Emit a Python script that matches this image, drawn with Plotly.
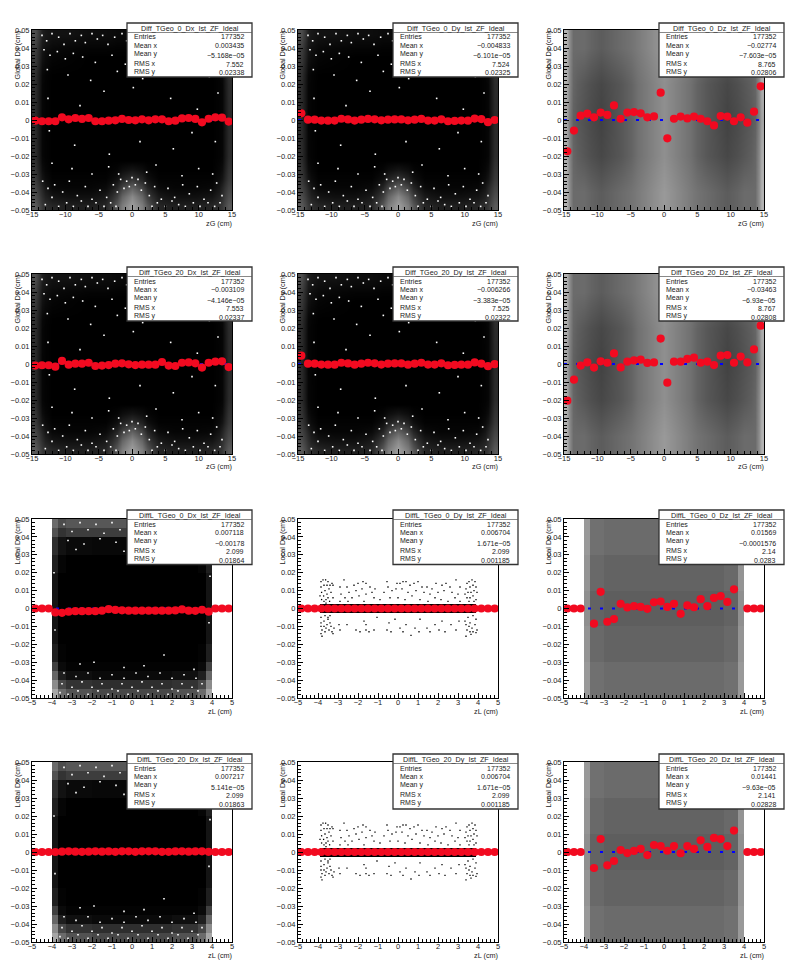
import plotly.graph_objects as go
from plotly.subplots import make_subplots

W, H = 798, 975
FONT = "Liberation Sans"

# ---------- statistics boxes ----------
titles = ["Diff_TGeo_0_Dx_Ist_ZF_Ideal", "Diff_TGeo_0_Dy_Ist_ZF_Ideal", "Diff_TGeo_0_Dz_Ist_ZF_Ideal",
          "Diff_TGeo_20_Dx_Ist_ZF_Ideal", "Diff_TGeo_20_Dy_Ist_ZF_Ideal", "Diff_TGeo_20_Dz_Ist_ZF_Ideal",
          "DiffL_TGeo_0_Dx_Ist_ZF_Ideal", "DiffL_TGeo_0_Dy_Ist_ZF_Ideal", "DiffL_TGeo_0_Dz_Ist_ZF_Ideal",
          "DiffL_TGeo_20_Dx_Ist_ZF_Ideal", "DiffL_TGeo_20_Dy_Ist_ZF_Ideal", "DiffL_TGeo_20_Dz_Ist_ZF_Ideal"]
entries = ["177352"] * 12
mean_x = ["0.003435", "\u22120.004833", "\u22120.02774", "\u22120.003109", "\u22120.006266", "\u22120.03463",
          "0.007118", "0.006704", "0.01569", "0.007217", "0.006704", "0.01441"]
mean_y = ["\u22125.168e\u221205", "\u22126.101e\u221205", "\u22127.603e\u221205", "\u22124.146e\u221205", "\u22123.383e\u221205", "\u22126.93e\u221205",
          "\u22120.00178", "1.671e\u221205", "\u22120.0001576", "5.141e\u221205", "1.671e\u221205", "\u22129.63e\u221205"]
rms_x = ["7.552", "7.524", "8.765", "7.553", "7.525", "8.767", "2.099", "2.099", "2.14", "2.099", "2.099", "2.141"]
rms_y = ["0.02338", "0.02325", "0.02806", "0.02337", "0.02322", "0.02808",
         "0.01864", "0.001185", "0.0283", "0.01863", "0.001185", "0.02828"]
x_titles = ["zG (cm)"] * 6 + ["zL (cm)"] * 6
y_titles = ["Global Dx (cm)", "Global Dy (cm)", "Global Dz (cm)"] * 2 + ["Local Dx (cm)", "Local Dy (cm)", "Local Dz (cm)"] * 2

# ---------- profile means (red), 30 bins ----------
zg_centers = [-14.5 + i for i in range(30)]
zl_centers = [-4.833, -4.5, -4.167, -3.833, -3.5, -3.167, -2.833, -2.5, -2.167, -1.833, -1.5, -1.167, -0.833, -0.5, -0.167,
              0.167, 0.5, 0.833, 1.167, 1.5, 1.833, 2.167, 2.5, 2.833, 3.167, 3.5, 3.833, 4.167, 4.5, 4.833]
N = None
mean_g0dx = [-.0004, -.0007, -.0007, -.0007, .0015, .0004, .0011, .0006, .0011, -.0007, -.0007, -.0004, -.0002, .0006, 0,
             -.0002, .0004, -.0002, .0004, .0004, -.0007, -.0004, .0009, .0011, .0006, -.0013, .0007, .0015, .0013, -.0009]
mean_g0dy = [.0037, .0002, .0002, -.0003, -.0004, -.0003, .0007, .0003, -.0003, .0002, .0006, .0004, -.0002, .0002, .0003,
             .0003, -.0002, .0002, .0006, -.0003, -.0003, .0004, -.0007, -.0005, -.0003, -.0004, .0008, .0005, -.0012, 0]
mean_g0dz = [-.0174, -.0059, .0024, .0035, .0015, .0041, .0028, .0081, .0007, .0041, .0044, .0037, .0015, .002, .0152,
             -.0102, .0007, .0019, .0009, .0019, .0007, -.0007, -.003, .0022, .0019, -.0007, .0015, -.0015, .0046, .0187]
mean_g20dx = [-.0009, -.0007, -.0007, -.0015, .0017, -.0004, .0002, .0002, .0007, -.0011, -.0009, -.0006, .0002, .0004, -.0002,
              -.0006, -.0004, -.0004, -.0004, .0011, -.0009, -.0011, .0007, .0009, .0004, -.002, .0007, .0013, .0015, -.0017]
mean_g20dy = [.0046, .0002, .0002, -.0003, -.0004, -.0004, .0007, .0003, -.0004, .0002, .0007, .0004, -.0003, .0002, .0003,
              .0003, -.0004, .0002, .0007, -.0003, -.0003, .0004, -.0007, -.0005, -.0004, -.0004, .0009, .0002, -.0012, -.0001]
mean_g20dz = [-.0204, -.0087, -.0009, .0009, -.002, .0015, .0007, .0059, -.0019, .0013, .002, .0024, .0006, .0009, .0141,
              -.0104, .0013, .0013, .0028, .0035, .0007, .0013, -.0006, .0046, .005, .0007, .0041, .0009, .0081, .0213]
mean_l0dx = [0, 0, 0, -.0022, -.0024, -.0018, -.0015, -.0015, -.0015, -.0015, -.0012, -.0004, -.0008, -.001, -.0012,
             -.0012, -.0012, -.0012, -.0012, -.0012, -.0012, -.0011, -.0005, -.0012, -.0013, -.0007, -.0018, 0, 0, 0]
mean_l0dy = [0] * 30
mean_l0dz = [0, 0, 0, N, -.0085, .0093, -.0074, -.0059, .0026, .0006, .0013, .0009, -.0002, .0035, .0039,
             .0009, .0026, -.003, .0017, .0007, .0052, .0013, .0059, .0069, .0037, .0107, N, 0, 0, 0]
mean_l20dx = [0, 0, 0, 0, .0002, .0004, .0002, .0001, .0002, .0004, .0002, .0003, .0001, .0004, .0004,
              .0001, .0004, .0004, .0004, .0001, .0001, .0003, .0004, .0002, .0003, .0004, .0001, 0, 0, 0]
mean_l20dy = [0] * 30
mean_l20dz = [0, 0, 0, N, -.0089, .0072, -.0074, -.005, .0011, -.0006, .0006, .0017, -.0017, .0039, .0033,
              .0007, .0033, -.0007, .0033, .0017, .0065, .0028, .0078, .0072, .0033, .0119, N, 0, 0, 0]
means = [mean_g0dx, mean_g0dy, mean_g0dz, mean_g20dx, mean_g20dy, mean_g20dz,
         mean_l0dx, mean_l0dy, mean_l0dz, mean_l20dx, mean_l20dy, mean_l20dz]

# ---------- read-off occupancy of the scatter clouds (0 empty .. 1 solid) ----------
gd_xb = [-15, -14, -13, -11, -8, -5, -3, -1.5, 1.5, 3, 5, 8, 11, 13, 14, 15]
gd_yb = [-.05, -.045, -.04, -.035, -.03, -.025, -.02, .02, .03, .04, .045, .05]
gd_z = [
    [.65, .78, .85, .88, .88, .85, .65, .38, .65, .85, .88, .88, .85, .78, .65],
    [.70, .82, .92, .94, .94, .90, .75, .46, .75, .90, .94, .94, .92, .82, .70],
    [.74, .86, .97, .98, .98, .96, .85, .62, .85, .96, .98, .98, .97, .86, .74],
    [.78, .92, .99, .99, .99, .99, .94, .80, .94, .99, .99, .99, .99, .92, .78],
    [.80, .95, 1, 1, 1, 1, .98, .92, .98, 1, 1, 1, 1, .95, .80],
    [.82, .97, 1, 1, 1, 1, 1, 1, 1, 1, 1, 1, 1, .97, .82],
    [.84, .98, 1, 1, 1, 1, 1, 1, 1, 1, 1, 1, 1, .98, .84],
    [.82, .97, 1, 1, 1, 1, 1, 1, 1, 1, 1, 1, 1, .97, .82],
    [.78, .93, .98, .99, 1, 1, 1, 1, 1, 1, 1, .99, .98, .93, .78],
    [.74, .90, .95, .96, .97, .97, .98, .98, .98, .97, .97, .96, .95, .90, .74],
    [.70, .88, .93, .93, .95, .95, .96, .96, .96, .95, .95, .93, .93, .88, .70],
]
gz_xb = [-15, -14.3, -13, -11, -8, -5, -3, -1, 1, 3, 5, 8, 11, 13, 14.3, 15]
gz_yb = [-.05, -.03, -.01, .01, .03, .05]
gz_z = [
    [.30, .58, .58, .64, .58, .52, .46, .40, .46, .52, .58, .64, .58, .58, .30],
    [.32, .60, .66, .72, .66, .56, .50, .44, .50, .56, .66, .72, .66, .60, .32],
    [.36, .62, .68, .74, .66, .56, .50, .44, .50, .56, .66, .74, .68, .62, .36],
    [.32, .60, .66, .72, .66, .56, .50, .44, .50, .56, .66, .72, .66, .60, .32],
    [.30, .58, .58, .64, .58, .52, .46, .40, .46, .52, .58, .64, .58, .58, .30],
]
ld_xb = [-5, -4, -3.7, -3.3, -2, -1, 0, 1, 2, 3.3, 3.7, 4, 5]
ld_yb = [-.05, -.045, -.04, -.035, -.03, -.02, .02, .03, .04, .045, .05]
ld_z = [
    [0, .35, .58, .68, .72, .72, .72, .72, .68, .58, .35, 0],
    [0, .45, .72, .80, .82, .82, .82, .82, .80, .72, .45, 0],
    [0, .60, .88, .94, .96, .96, .96, .96, .94, .88, .60, 0],
    [0, .75, .96, .99, .99, .99, .99, .99, .99, .96, .75, 0],
    [0, .88, .99, 1, 1, 1, 1, 1, 1, .99, .88, 0],
    [0, .92, 1, 1, 1, 1, 1, 1, 1, 1, .92, 0],
    [0, .88, .98, 1, 1, 1, 1, 1, 1, .98, .88, 0],
    [0, .82, .93, .96, .97, .97, .97, .97, .96, .93, .82, 0],
    [0, .68, .80, .76, .76, .76, .76, .76, .76, .80, .68, 0],
    [0, .58, .70, .66, .66, .66, .66, .66, .66, .70, .58, 0],
]
lz_xb = [-5, -4, -3.7, -3, -1, 1, 3, 3.7, 4, 5]
lz_yb = [-.05, -.03, -.01, .01, .03, .05]
lz_z = [
    [0, .40, .56, .58, .58, .58, .56, .40, 0],
    [0, .42, .59, .61, .61, .61, .59, .42, 0],
    [0, .44, .61, .63, .63, .63, .61, .44, 0],
    [0, .42, .59, .61, .61, .61, .59, .42, 0],
    [0, .40, .56, .58, .58, .58, .56, .40, 0],
]
ly_xb = [-5, -3.9, 3.9, 5]
ly_yb = [-.05, -.0025, .0025, .05]
ly_z = [[0, 0, 0], [0, 1, 0], [0, 0, 0]]
clouds = [(gd_xb, gd_yb, gd_z), (gd_xb, gd_yb, gd_z), (gz_xb, gz_yb, gz_z)] * 2 + \
         [(ld_xb, ld_yb, ld_z), (ly_xb, ly_yb, ly_z), (lz_xb, lz_yb, lz_z)] * 2

# ---------- isolated hits of the local Dy scatter (black) ----------
ly_hits = [(-3.85,.015),(-3.75,.016),(-3.62,.016),(-3.5,.015),(-3.4,.013),(-3.85,.012),(-3.7,.013),(-3.55,.013),(-3.3,.014),
 (-3.82,.009),(-3.65,.010),(-3.45,.011),(-3.25,.013),(-3.9,.007),(-3.72,.007),(-3.55,.008),(-3.35,.009),(-3.25,.006),
 (-3.82,.005),(-3.6,.005),(-3.5,.006),(-3.7,.004),(-3.42,.004),(-3.6,.003),(-2.7,.016),(-2.55,.012),(-2.9,.012),(-2.2,.013),
 (-2.0,.014),(-1.75,.015),(-1.6,.014),(-1.4,.012),(-2.45,.009),(-2.85,.008),(-2.1,.010),(-1.8,.011),(-1.3,.009),(-1.15,.011),
 (-2.65,.006),(-2.3,.006),(-1.95,.007),(-1.6,.008),(-1.2,.006),(-2.9,.004),(-2.5,.004),(-1.7,.004),(-0.9,.005),(-0.55,.015),
 (-0.5,.012),(-0.7,.009),(-0.3,.010),(-0.05,.014),(0.1,.014),(0.25,.015),(0.4,.015),(0.6,.013),(0.8,.014),(1.0,.015),(1.2,.012),
 (1.45,.012),(1.7,.011),(1.9,.014),(2.2,.013),(2.4,.014),(2.6,.012),(2.9,.016),(3.1,.012),(-0.1,.011),(0.2,.011),(0.5,.009),
 (0.9,.010),(1.3,.009),(1.6,.008),(2.0,.009),(2.3,.010),(2.7,.009),(3.0,.008),(-0.4,.006),(0,.006),(0.35,.005),(0.7,.007),
 (1.1,.005),(1.5,.004),(1.85,.006),(2.15,.005),(2.5,.004),(2.85,.006),(3.1,.004),(3.45,.014),(3.55,.015),(3.7,.016),(3.85,.015),
 (3.4,.011),(3.6,.012),(3.75,.013),(3.9,.012),(3.35,.008),(3.5,.009),(3.65,.009),(3.8,.010),(3.95,.009),(3.45,.006),(3.6,.006),
 (3.75,.007),(3.9,.005),(3.55,.004),(3.8,.004),(-3.85,-.005),(-3.65,-.004),(-3.5,-.005),(-3.4,-.004),(-3.85,-.008),(-3.7,-.007),
 (-3.5,-.006),(-3.4,-.008),(-3.85,-.010),(-3.7,-.010),(-3.55,-.009),(-3.35,-.010),(-3.8,-.012),(-3.65,-.013),(-3.45,-.012),
 (-3.3,-.013),(-3.85,-.014),(-3.6,-.011),(-3.8,-.0155),(-3.25,-.014),(-3.2,-.011),(-2.95,-.009),(-2.9,-.012),(-2.55,-.009),
 (-2.1,-.012),(-1.9,-.013),(-1.6,-.012),(-1.7,-.007),(-1.6,-.009),(-1.45,-.013),(-1.2,-.012),(-1.05,-.005),(-0.55,-.012),
 (-0.45,-.008),(-0.35,-.013),(-0.15,-.006),(0.1,-.011),(0.25,-.013),(0.4,-.009),(0.65,-.015),(0.85,-.011),(1.05,-.013),(1.1,-.006),
 (1.45,-.011),(1.6,-.013),(1.85,-.009),(2.05,-.012),(2.2,-.007),(2.35,-.013),(2.65,-.009),(2.9,-.012),(3.05,-.007),(3.35,-.007),
 (3.5,-.005),(3.6,-.008),(3.75,-.004),(3.9,-.006),(3.4,-.009),(3.55,-.010),(3.7,-.011),(3.85,-.009),(3.95,-.012),(3.45,-.012),
 (3.6,-.013),(3.75,-.013),(3.9,-.0135),(3.4,-.0155),(3.65,-.0145)]

# ---------- gaps (white) seen in the global Dx/Dy clouds ----------
gd_gaps = [(-13.5,.047),(-12.8,.044),(-12,.048),(-11,.046),(-10.2,.042),(-9.3,.048),(-8.5,.044),(-7.6,.047),(-7,.043),(-6,.048),
 (-5.2,.045),(-4.4,.047),(-3.6,.042),(-2.6,.046),(-1.5,.048),(-0.8,.044),(0.3,.046),(1.2,.048),(2.4,.044),(3.2,.047),(8.5,.048),
 (9.4,.043),(10.6,.046),(11.5,.048),(12.6,.044),(13.4,.047),(-13.2,.039),(-12.3,.036),(-11.2,.038),(-10,.034),(-8.8,.037),(-7.4,.035),
 (-5.5,.032),(-3,.036),(-1,.031),(0.9,.035),(2.8,.032),(5,.036),(7,.033),(9,.037),(10.8,.034),(12.2,.038),(13.1,.033),(-12.7,.028),
 (-9.6,.025),(-6.2,.022),(-2.2,.027),(1.6,.023),(4.4,.026),(8.2,.029),(11.6,.024),(13.2,.027),(-12.6,.012),(-7.8,.008),(-4.2,.016),
 (0.2,.018),(5.8,.012),(9.8,.006),(12.9,.015),(-12.4,-.006),(-8.6,-.014),(-3.4,-.019),(1.2,-.012),(6.2,-.016),(9,-.007),(12.5,-.012),
 (-12,-.024),(-9,-.027),(-6,-.03),(-3.5,-.026),(-2,-.03),(2.2,-.029),(3.6,-.025),(7.5,-.031),(10,-.027),(12.1,-.03),
 (-13.4,-.034),(-12.6,-.038),(-11.6,-.036),(-10.4,-.04),(-9.4,-.034),(-8.2,-.042),(-7,-.037),(-6,-.044),(-4.8,-.039),(-3.8,-.043),(-2.8,-.036),
 (-2.2,-.04),(-1.7,-.033),(-1.2,-.038),(-0.8,-.034),(-0.4,-.037),(0,-.032),(0.5,-.036),(0.9,-.033),(1.4,-.039),(2,-.035),(2.6,-.042),
 (3.4,-.037),(4.4,-.044),(5.4,-.038),(6.4,-.043),(7.6,-.036),(8.6,-.041),(9.8,-.037),(10.8,-.044),(11.8,-.039),(12.7,-.035),(13.5,-.042),
 (-13,-.047),(-12,-.043),(-11,-.048),(-9.8,-.046),(-8.8,-.048),(-7.6,-.045),(-6.6,-.048),(-5.4,-.046),(-4.2,-.048),(-3.2,-.046),(-2.4,-.048),
 (3,-.048),(3.8,-.046),(5,-.048),(6,-.045),(7,-.047),(8,-.048),(9.2,-.046),(10.2,-.048),(11.4,-.046),(12.4,-.048),(13.2,-.046)]
# ---------- gaps (white) seen in the local Dx clouds ----------
ld_gaps = [(-3.4,.047),(-3,.043),(-2.6,.048),(-2.2,.044),(-1.8,.047),(-1.4,.042),(-1,.048),(-0.6,.044),(-0.2,.047),(0.2,.043),(0.6,.048),(1,.044),
 (1.4,.047),(1.8,.042),(2.2,.048),(2.6,.044),(3,.047),(3.4,.043),(-3.2,.038),(-2.4,.036),(-1.6,.039),(-0.8,.037),(0,.038),(0.8,.036),(1.6,.039),(2.4,.037),
 (3.2,.038),(-2.8,.033),(-0.4,.032),(2,.033),(-3.9,.02),(3.9,.018),(-3.85,-.012),(3.85,-.008),(-2.6,-.031),(-1.9,-.03),(-0.4,-.033),(0.6,-.032),(1.6,-.026),
 (3.1,-.034),(-3.4,-.036),(-2.8,-.038),(-2.2,-.036),(-1.6,-.039),(-1,-.037),(-0.4,-.039),(0.2,-.036),(0.8,-.038),(1.4,-.036),(2,-.039),(2.6,-.037),(3.2,-.039),
 (-3.5,-.042),(-3,-.044),(-2.5,-.041),(-2,-.044),(-1.5,-.042),(-1,-.045),(-0.5,-.042),(0,-.044),(0.5,-.041),(1,-.044),(1.5,-.042),(2,-.045),(2.5,-.042),(3,-.044),(3.5,-.042),
 (-3.6,-.047),(-3.2,-.048),(-2.7,-.046),(-2.2,-.048),(-1.7,-.046),(-1.2,-.048),(-0.7,-.046),(-0.2,-.048),(0.3,-.046),(0.8,-.048),(1.3,-.046),(1.8,-.048),(2.3,-.046),(2.8,-.048),(3.3,-.046)]
gaps = {0: gd_gaps, 1: gd_gaps, 3: gd_gaps, 4: gd_gaps, 6: ld_gaps, 9: ld_gaps}

y_tick_vals = [-.05, -.04, -.03, -.02, -.01, 0, .01, .02, .03, .04, .05]
y_tick_text = ["\u22120.05", "\u22120.04", "\u22120.03", "\u22120.02", "\u22120.01", "0", "0.01", "0.02", "0.03", "0.04", "0.05"]
zg_tick_vals = [-15, -10, -5, 0, 5, 10, 15]
zg_tick_text = ["\u221215", "\u221210", "\u22125", "0", "5", "10", "15"]
zl_tick_vals = [-5, -4, -3, -2, -1, 0, 1, 2, 3, 4, 5]
zl_tick_text = ["\u22125", "\u22124", "\u22123", "\u22122", "\u22121", "0", "1", "2", "3", "4", "5"]

# ---------- layout geometry, in page pixels ----------
col_px = [(32, 232), (298, 498), (564, 764)]
row_px = [(30, 210), (274, 454), (519, 698), (762, 942)]
box_col = [(127, 252), (393, 518), (659, 784)]
box_row = [(23, 77), (267, 321), (510, 564.5), (754, 809)]
ytitle_col = [17, 282, 548]
RED = "#f20a20"

fig = make_subplots(rows=4, cols=3)
ann, shp = [], []
def px(v): return v / W
def py(v): return 1 - v / H

for i in range(12):
    r, c = i // 3, i % 3
    row, col = r + 1, c + 1
    glob = i < 6
    xr = [-15, 15] if glob else [-5, 5]
    xb, yb, z = clouds[i]
    fig.add_trace(go.Heatmap(x=xb, y=yb, z=z, zmin=0, zmax=1, showscale=False, hoverinfo="skip",
                             zsmooth="best" if glob else False,
                             colorscale=[[0, "#ffffff"], [1, "#000000"]]), row=row, col=col)
    if i in (7, 10):
        fig.add_trace(go.Scatter(x=[p[0] for p in ly_hits], y=[p[1] for p in ly_hits], mode="markers",
                                 marker=dict(symbol="square", size=1.3, color="#000000"), hoverinfo="skip"),
                      row=row, col=col)
    if i in gaps:
        fig.add_trace(go.Scatter(x=[p[0] for p in gaps[i]], y=[p[1] for p in gaps[i]], mode="markers",
                                 marker=dict(symbol="square", size=1.6, color="#ffffff"), hoverinfo="skip"),
                      row=row, col=col)
    fig.add_trace(go.Scatter(x=xr, y=[0, 0], mode="lines", hoverinfo="skip",
                             line=dict(color="#0000ff", width=2, dash="3px,9px")), row=row, col=col)
    fig.add_trace(go.Scatter(x=zg_centers if glob else zl_centers, y=means[i], mode="markers",
                             marker=dict(size=8.2, color=RED), cliponaxis=False, hoverinfo="skip"),
                  row=row, col=col)
    fig.update_xaxes(row=row, col=col, automargin=False, domain=[px(col_px[c][0]), px(col_px[c][1])], range=xr, showgrid=False, zeroline=False,
                     tickmode="array", tickvals=zg_tick_vals if glob else zl_tick_vals,
                     ticktext=zg_tick_text if glob else zl_tick_text, ticklabelstandoff=-3,
                     ticks="inside", ticklen=5, tickwidth=1, tickcolor="#000", showline=True, linecolor="#000", linewidth=1,
                     mirror=True, layer="above traces", tickfont=dict(family=FONT, size=7.5, color="#222"),
                     minor=dict(ticks="inside", ticklen=3, tickcolor="#000", tick0=0, dtick=1 if glob else 0.2, showgrid=False))
    fig.update_yaxes(row=row, col=col, automargin=False, domain=[py(row_px[r][1]), py(row_px[r][0])], range=[-.05, .05], showgrid=False, zeroline=False,
                     tickmode="array", tickvals=y_tick_vals, ticktext=y_tick_text,
                     ticks="inside", ticklen=5, tickwidth=1, tickcolor="#000", showline=True, linecolor="#000", linewidth=1,
                     mirror=True, layer="above traces", tickfont=dict(family=FONT, size=7.5, color="#222"),
                     minor=dict(ticks="inside", ticklen=3, tickcolor="#000", tick0=0, dtick=.002, showgrid=False))

    # stat box
    x0, x1 = box_col[c]
    y0, y1 = box_row[r]
    common = dict(xref="paper", yref="paper", type="rect", layer="above")
    shp.append(dict(**common, x0=px(x0), x1=px(x1), y0=py(y1), y1=py(y0), fillcolor="#ffffff",
                    line=dict(color="#333333", width=1.3)))
    shp.append(dict(xref="paper", yref="paper", type="line", layer="above", x0=px(x0), x1=px(x1),
                    y0=py(y0 + 9.5), y1=py(y0 + 9.5), line=dict(color="#555555", width=0.7)))
    def text(s, xp, yp, anchor, size=7.0):
        ann.append(dict(xref="paper", yref="paper", x=px(xp), y=py(yp), text=s, showarrow=False, xanchor=anchor,
                        yanchor="middle", xshift=0, font=dict(family=FONT, size=size, color="#222"), borderpad=0))
    text(titles[i], (x0 + x1) / 2, y0 + 5, "center", 7.2)
    labels = ["Entries", "Mean x", "Mean y", "RMS x", "RMS y"]
    values = [entries[i], mean_x[i], mean_y[i], rms_x[i], rms_y[i]]
    ly = [14, 22.5, 31, 40.5, 49]
    vy = [14, 22.5, 33, 41.5, 50]
    for lab, val, a, b in zip(labels, values, ly, vy):
        text(lab, x0 + 6, y0 + a, "left")
        text(val, x1 - 7, y0 + b, "right")

    # axis titles
    text(x_titles[i], col_px[c][1] + 0.5, row_px[r][1] + 13, "right", 7.3)
    ann.append(dict(xref="paper", yref="paper", x=px(ytitle_col[c]), y=py(row_px[r][0]), text=y_titles[i], showarrow=False,
                    xanchor="center", yanchor="top", textangle=-90, font=dict(family=FONT, size=7.3, color="#222"), borderpad=0))

fig.update_layout(width=W, height=H, margin=dict(l=0, r=0, t=0, b=0), showlegend=False, autosize=False,
                  plot_bgcolor="#fff", paper_bgcolor="#fff", annotations=ann, shapes=shp)
fig.write_html("out.html", config=dict(displayModeBar=False),
               post_script="document.body.style.margin='0';")
